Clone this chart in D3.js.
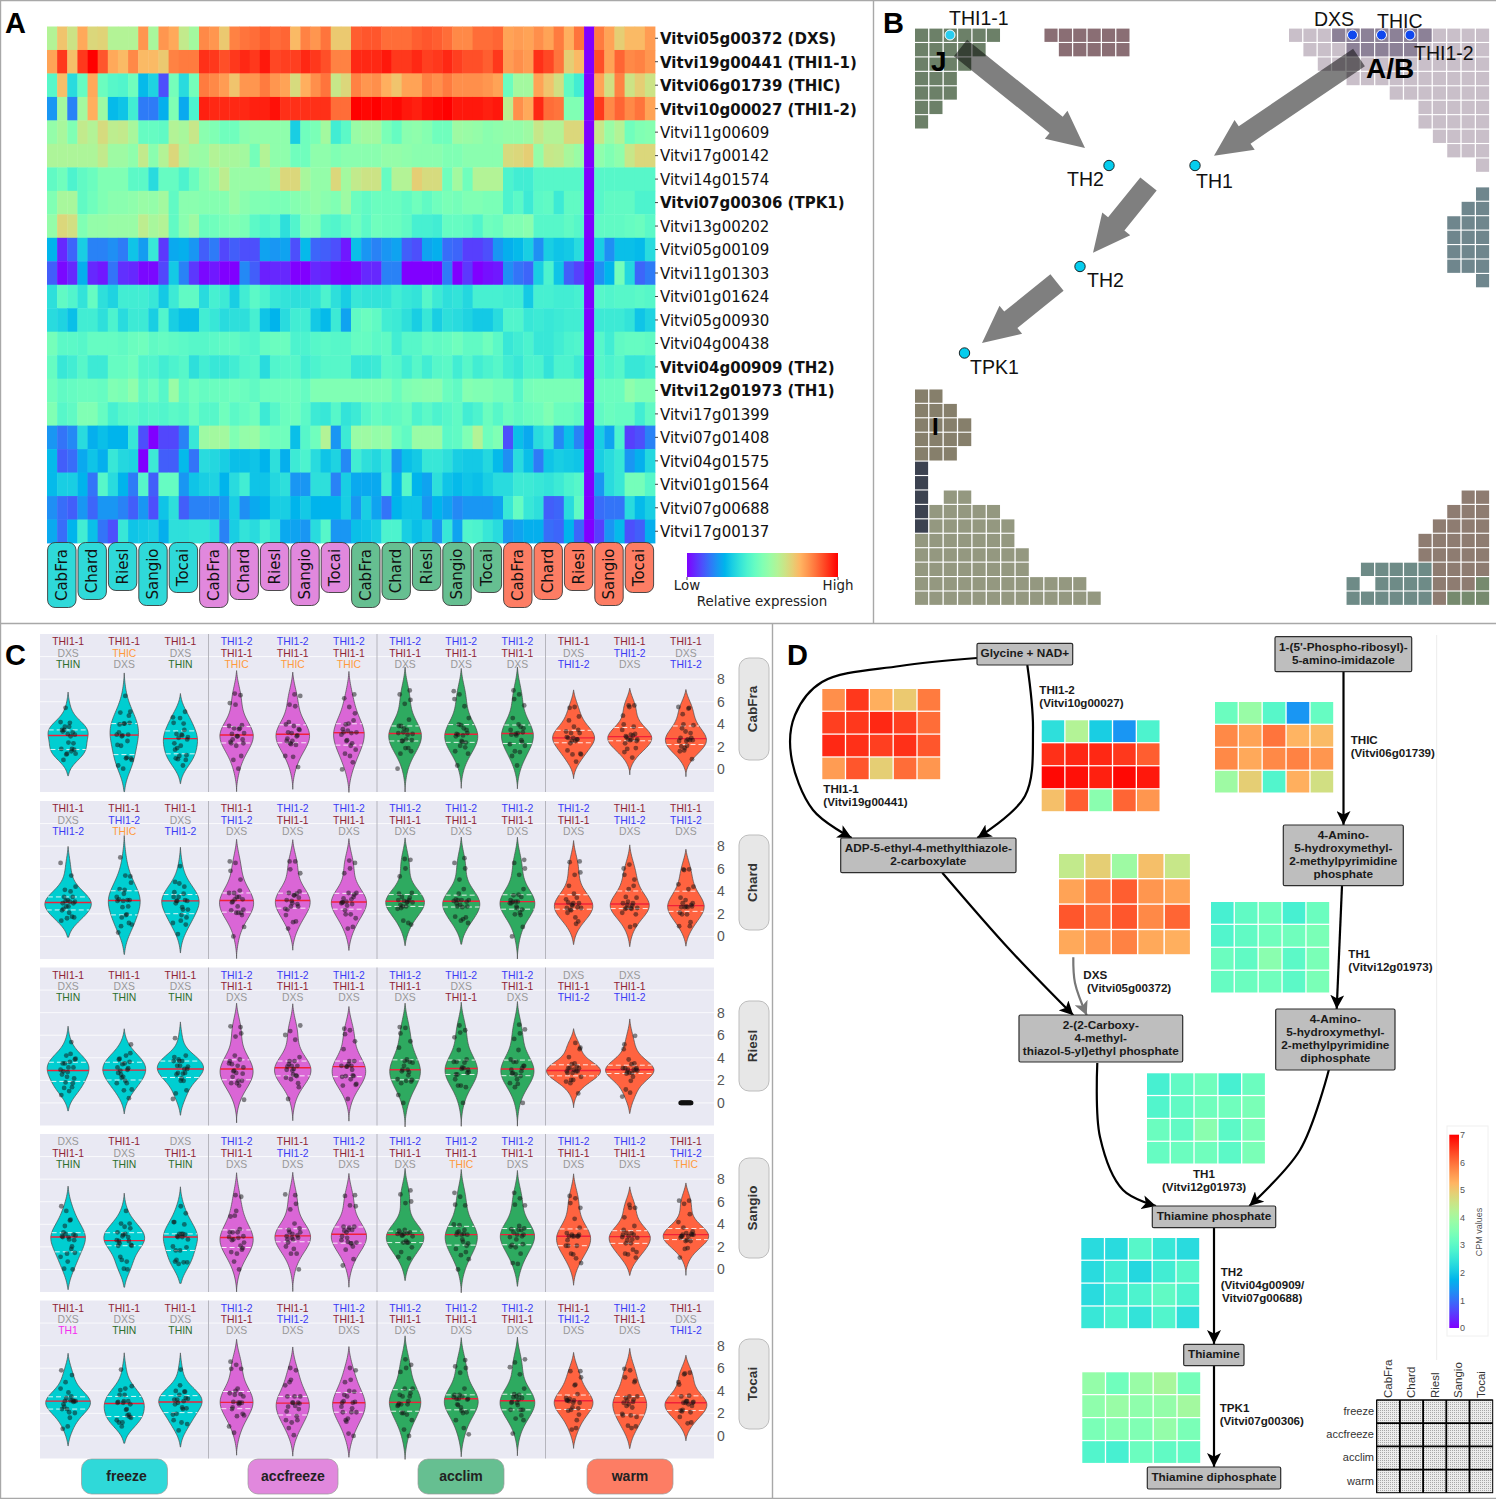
<!DOCTYPE html>
<html><head><meta charset="utf-8">
<script src="https://cdn.jsdelivr.net/npm/d3@7"></script>
<style>html,body{margin:0;padding:0;background:#fff}svg{display:block}text{font-family:"Liberation Sans",Arial,sans-serif}</style>
</head><body><svg id="c" width="1496" height="1499"></svg>
<script>
// ---------- DATA ----------
const genes=["Vitvi05g00372 (DXS)","Vitvi19g00441 (THI1-1)","Vitvi06g01739 (THIC)","Vitvi10g00027 (THI1-2)","Vitvi11g00609","Vitvi17g00142","Vitvi14g01574","Vitvi07g00306 (TPK1)","Vitvi13g00202","Vitvi05g00109","Vitvi11g01303","Vitvi01g01624","Vitvi05g00930","Vitvi04g00438","Vitvi04g00909 (TH2)","Vitvi12g01973 (TH1)","Vitvi17g01399","Vitvi07g01408","Vitvi04g01575","Vitvi01g01564","Vitvi07g00688","Vitvi17g00137"];
const cultivars=["CabFra","Chard","Riesl","Sangio","Tocai"];
const treatments=["freeze","accfreeze","acclim","warm"];
// relative expression, percent of the colour range; each row: freeze(15) accfreeze(15) acclim(15) warm(15)
const expression=[
[60,72,65,77,68,69,60,60,60,80,58,80,77,63,57, 82,80,71,83,85,86,88,86,87,74,83,80,85,71,71, 88,89,89,86,86,86,88,89,88,86,82,82,86,86,87, 78,79,78,81,78,84,76,85,0,84,78,70,74,74,79],
[78,93,73,93,100,89,77,74,82,74,74,71,83,84,84, 94,93,90,93,95,93,97,91,92,92,95,93,90,83,83, 95,95,95,97,93,93,95,92,93,95,92,90,90,88,93, 79,81,79,94,91,85,70,74,0,90,78,87,82,83,80],
[42,73,33,45,77,46,42,41,47,26,31,10,48,33,48, 84,82,79,72,80,80,84,80,78,67,76,81,85,64,68, 83,80,81,76,72,78,78,83,81,84,81,81,81,80,78, 46,57,57,78,72,66,44,38,0,78,66,83,65,70,65],
[20,57,17,57,76,56,26,28,38,16,16,24,50,23,40, 96,95,95,95,95,96,96,98,94,94,94,94,94,86,86, 100,99,100,98,99,97,96,98,99,100,97,97,97,96,97, 62,81,77,95,86,85,50,50,0,93,82,87,82,85,78],
[54,58,50,63,60,67,62,63,58,45,45,44,60,58,64, 52,50,47,47,52,53,53,53,53,30,47,49,57,38,43, 55,57,57,49,45,52,53,51,47,47,56,55,54,52,53, 54,54,56,64,60,60,68,68,0,64,55,60,47,50,51],
[59,59,59,59,59,63,56,56,53,63,52,60,68,60,56, 55,60,58,58,57,48,60,53,53,47,47,53,53,50,52, 52,52,52,54,54,53,52,52,52,50,50,52,52,52,52, 67,68,70,54,64,63,58,55,0,53,50,53,64,68,68],
[44,47,40,44,46,50,50,50,43,43,33,45,45,40,46, 52,55,62,55,55,55,55,58,68,68,58,54,54,68,57, 63,65,65,45,60,60,70,67,67,47,57,47,60,60,60, 40,38,38,42,42,42,42,42,0,42,42,42,42,42,42],
[50,58,58,44,47,50,52,52,53,55,54,57,44,52,52, 51,51,51,55,52,50,50,49,49,51,52,54,52,50,56, 46,44,46,46,46,44,47,44,47,49,48,50,50,49,49, 40,43,37,43,44,37,44,44,0,42,44,44,44,40,40],
[54,68,66,50,54,54,55,55,55,62,58,60,44,52,56, 46,47,49,50,49,43,41,43,34,41,50,50,42,41,44, 47,43,47,46,46,44,39,39,38,45,45,44,41,47,46, 50,50,52,42,42,42,44,42,0,44,44,44,45,46,43],
[25,5,13,30,17,17,19,16,28,21,36,7,23,24,20, 12,16,9,12,10,10,22,20,22,10,26,13,12,10,3, 27,20,17,20,22,12,10,22,24,14,13,8,8,10,20, 24,26,30,19,30,28,29,33,0,30,19,27,27,26,33],
[12,1,5,24,5,3,15,6,5,1,1,9,29,17,7, 1,3,0,0,18,12,4,5,5,0,0,5,4,1,0, 1,5,5,17,17,0,0,0,0,16,0,7,0,2,3, 19,15,13,30,40,28,12,8,0,19,25,48,32,13,16],
[34,44,41,35,45,34,31,38,38,38,36,29,37,44,44, 33,39,37,30,38,43,40,36,35,34,34,35,40,34,30, 36,35,35,35,38,36,35,42,37,34,35,32,39,39,39, 38,38,29,39,39,38,38,39,0,42,41,42,42,43,42],
[33,31,27,38,38,34,40,33,37,37,30,41,30,27,27, 38,36,33,34,34,39,28,25,33,38,38,29,26,37,22, 44,46,44,38,37,34,30,36,30,34,33,31,29,29,33, 41,41,36,37,36,37,38,38,0,37,37,37,35,28,31],
[48,43,43,42,45,45,45,44,46,47,44,45,44,43,42, 42,43,44,44,42,41,45,46,46,40,40,42,43,42,42, 45,45,43,44,38,42,42,45,44,45,47,44,44,47,43, 36,38,40,36,36,38,40,41,0,42,38,44,45,45,44],
[45,36,38,42,37,37,45,45,47,41,41,38,40,42,34, 38,36,36,38,41,42,33,41,42,42,38,40,42,42,42, 36,36,37,43,42,38,42,38,42,43,38,42,38,40,42, 38,36,40,40,35,40,40,37,0,42,40,42,36,36,38],
[47,44,45,46,46,45,50,49,53,44,47,42,55,44,47, 45,46,46,47,46,44,47,47,47,47,45,50,50,50,50, 50,50,50,50,46,50,51,52,52,46,44,51,50,50,48, 48,42,48,49,49,49,49,49,0,46,46,46,53,50,50],
[50,42,44,50,50,45,39,42,43,41,42,41,43,42,46, 42,42,47,43,45,47,37,42,46,47,43,37,36,42,35, 37,42,45,43,44,46,40,43,40,42,44,38,40,46,42, 46,44,46,47,50,46,46,44,0,44,46,45,45,38,44],
[20,15,18,33,24,27,25,25,36,10,0,9,9,17,36, 56,57,57,50,54,55,49,47,47,27,42,47,60,20,37, 55,56,54,55,47,44,55,55,55,43,44,50,60,47,50, 10,27,23,33,36,18,27,17,0,30,22,40,8,10,17],
[26,12,14,23,28,24,36,32,31,0,37,12,12,26,15, 33,32,30,27,27,28,25,34,24,37,40,33,28,31,18, 38,34,32,36,20,27,29,36,36,34,30,29,29,32,26, 19,33,27,16,28,30,29,28,0,30,33,36,20,24,32],
[26,30,30,25,15,42,33,25,16,42,12,45,45,20,28, 30,31,25,33,38,28,28,32,34,20,20,34,34,17,30, 23,23,23,38,24,42,25,22,34,28,26,28,27,30,33, 33,37,37,36,35,37,40,42,0,20,33,36,48,48,42],
[19,14,12,20,13,20,20,17,12,20,10,28,34,12,17, 17,17,20,30,19,23,25,30,30,25,29,25,25,25,30, 20,30,22,15,25,28,28,20,25,22,18,20,20,20,22, 36,45,36,34,12,13,33,44,0,14,15,15,33,26,30],
[23,14,25,38,27,15,10,36,28,29,30,24,34,34,35, 35,33,17,30,35,33,38,35,23,22,20,33,42,20,20, 27,28,30,40,40,30,27,30,20,36,22,41,40,36,33, 20,22,24,24,14,13,25,13,0,8,20,26,10,12,24]
];
// three most expressed genes shown above each violin, rows = cultivars, 12 violins per row
const topGenes=[
["THI1-1|DXS|THIN","THI1-1|THIC|DXS","THI1-1|DXS|THIN","THI1-2|THI1-1|THIC","THI1-2|THI1-1|THIC","THI1-2|THI1-1|THIC","THI1-2|THI1-1|DXS","THI1-2|THI1-1|DXS","THI1-2|THI1-1|DXS","THI1-1|DXS|THI1-2","THI1-1|THI1-2|DXS","THI1-1|DXS|THI1-2"],
["THI1-1|DXS|THI1-2","THI1-1|THI1-2|THIC","THI1-1|DXS|THI1-2","THI1-1|THI1-2|DXS","THI1-2|THI1-1|DXS","THI1-2|THI1-1|DXS","THI1-2|THI1-1|DXS","THI1-2|THI1-1|DXS","THI1-2|THI1-1|DXS","THI1-2|THI1-1|DXS","THI1-1|THI1-2|DXS","THI1-1|THI1-2|DXS"],
["THI1-1|DXS|THIN","THI1-1|DXS|THIN","THI1-1|DXS|THIN","THI1-2|THI1-1|DXS","THI1-2|THI1-1|DXS","THI1-2|THI1-1|DXS","THI1-2|THI1-1|DXS","THI1-2|DXS|THI1-1","THI1-2|THI1-1|DXS","DXS|THI1-1|THI1-2","DXS|THI1-1|THI1-2",""],
["DXS|THI1-1|THIN","THI1-1|DXS|THIN","DXS|THI1-1|THIN","THI1-2|THI1-1|DXS","THI1-1|THI1-2|DXS","THI1-2|THI1-1|DXS","THI1-2|THI1-1|DXS","THI1-2|THI1-1|THIC","THI1-2|THI1-1|DXS","THI1-2|THI1-1|DXS","THI1-2|THI1-1|DXS","THI1-1|THI1-2|THIC"],
["THI1-1|DXS|TH1","THI1-1|DXS|THIN","THI1-1|DXS|THIN","THI1-2|THI1-1|DXS","THI1-1|THI1-2|DXS","THI1-2|THI1-1|DXS","THI1-2|THI1-1|DXS","THI1-2|THI1-1|DXS","THI1-2|THI1-1|DXS","THI1-1|THI1-2|DXS","THI1-2|THI1-1|DXS","THI1-1|DXS|THI1-2"]
];
// pathway heat grids: CPM colour fraction, rows treatments, columns cultivars (percent)
const gridTHI11=[[81,93,76,71,84],[92,93,95,92,86],[95,94,92,94,89],[79,89,70,86,80]];
const gridTHI12=[[34,60,30,20,40],[94,95,95,93,88],[99,98,96,99,97],[73,88,52,87,80]];
const gridDXS=[[63,70,56,73,64],[78,84,88,80,78],[89,86,89,82,87],[77,80,83,77,76]];
const gridTHIC=[[46,55,42,20,45],[82,78,85,75,74],[82,77,82,83,80],[56,70,41,76,66]];
const gridTH1=[[39,44,47,39,46],[41,44,47,47,49],[46,44,52,43,49],[45,46,47,43,49]];
const gridTH2=[[33,33,42,36,33],[33,38,32,38,42],[33,38,40,44,40],[36,40,35,41,34]];
const gridTPK1=[[54,47,55,58,48],[53,55,53,54,57],[49,51,50,54,49],[41,39,46,44,44]];
// SOM tiles of panel B: [row, first column, last column]
const tilesJ=[[0,0,5],[1,0,4],[2,0,3],[3,0,2],[4,0,2],[5,0,1],[6,0,0]];
const tilesMauve=[[0,9,14],[1,10,14]];
const tilesAB=[[0,26,39],[1,27,39],[2,28,39],[3,30,39],[4,33,39],[5,35,39],[6,35,39],[7,36,39],[8,37,39],[9,39,39]];
const tilesABdark=[[0,29,35],[1,30,34]];
const tilesSlateBlue=[[11,39,39],[12,38,39],[13,37,39],[14,37,39],[15,37,39],[16,37,39],[17,39,39]];
const tilesI=[[25,0,1],[26,0,2],[27,0,3],[28,0,3],[29,0,2]];
const tilesDark=[[30,0,0],[31,0,0],[32,0,0],[33,0,0],[34,0,0]];
const tilesOlive=[[32,2,3],[33,1,5],[34,1,6],[35,0,6],[36,0,7],[37,0,7],[38,0,11],[39,0,12]];
const tilesBrown=[[32,38,39],[33,37,39],[34,36,39],[35,35,39],[36,35,39],[37,36,39],[38,36,38],[39,36,36]];
const tilesTeal=[[37,31,35],[38,30,30],[38,32,35],[39,30,35]];
const tilesGreen=[[38,39,39],[39,37,39]];

// ---------- HELPERS ----------
const svg=d3.select("#c");
const defs=svg.append("defs");
const rainbow=t=>{t=Math.max(0,Math.min(1,t));return d3.rgb(255*Math.min(1,Math.abs(2*t-.5)),255*Math.sin(Math.PI*t),255*Math.cos(Math.PI*t/2)).formatRgb();};
const groupFill=["#2fd9d9","#e188dd","#66bf91","#fd7d64"];
const violinFill=["#00ced1","#da66d6","#2eaa60","#ff6340"];
function gradient(id,x2,y2){const g=defs.append("linearGradient").attr("id",id).attr("x1",0).attr("y1",y2?1:0).attr("x2",x2).attr("y2",0);
  d3.range(0,1.001,.05).forEach(t=>g.append("stop").attr("offset",t).attr("stop-color",rainbow(t)));}
gradient("gradH",1,0);gradient("gradV",0,1);
const pat=defs.append("pattern").attr("id","dots").attr("width",2).attr("height",2).attr("patternUnits","userSpaceOnUse");
pat.append("rect").attr("width",2).attr("height",2).attr("fill","#ececec");
pat.append("rect").attr("width",1).attr("height",1).attr("fill","#a8a8a8");
[["arrK","#000"],["arrG","#777"]].forEach(([id,c])=>defs.append("marker").attr("id",id).attr("markerUnits","userSpaceOnUse").attr("markerWidth",16).attr("markerHeight",14).attr("refX",14).attr("refY",7).attr("orient","auto").append("path").attr("d","M0,0L14,7L0,14L3.5,7Z").attr("fill",c));

// frame
[[0,.5,1496,.5],[.5,0,.5,1499],[873.5,0,873.5,623],[0,623.5,1496,623.5],[772.5,623,772.5,1499],[0,1498.5,1496,1498.5]].forEach(l=>
 svg.append("line").attr("x1",l[0]).attr("y1",l[1]).attr("x2",l[2]).attr("y2",l[3]).attr("stroke","#a8a8a8").attr("stroke-width",1.4));
[["A",5,33],["B",883,33],["C",5,665],["D",787,665]].forEach(d=>svg.append("text").text(d[0]).attr("x",d[1]).attr("y",d[2]).attr("font-size",29).attr("font-weight",700).attr("fill","#000"));

// ---------- PANEL A ----------
const A=svg.append("g");
const hx=d3.scaleBand().domain(d3.range(60)).range([47,655]);
const hy=d3.scaleBand().domain(genes).range([26.5,543]);
expression.forEach((row,r)=>A.append("g").selectAll("rect").data(row).join("rect")
  .attr("x",(d,i)=>hx(i)).attr("y",hy(genes[r])).attr("width",hx.bandwidth()+.4).attr("height",hy.bandwidth()+.4)
  .attr("fill",d=>rainbow(d/100)));
const gAxis=A.append("g").attr("transform","translate(655,0)").call(d3.axisRight(hy).tickSize(3).tickPadding(2));
gAxis.select(".domain").remove();
gAxis.selectAll("line").attr("stroke","#444");
gAxis.selectAll("text").attr("dy","0.39em").attr("y",0).style("font-family","'DejaVu Sans'").style("font-size","15px").attr("fill","#111").style("font-weight",d=>d.includes("(")?700:400);
const pillLen=[65,57,48,63,50];
treatments.forEach((t,g)=>cultivars.forEach((c,k)=>{
  const x0=hx(g*15+k*3)+.6, w=hx.bandwidth()*3-2, h=pillLen[k];
  const gg=A.append("g");
  gg.append("rect").attr("x",x0).attr("y",542.5).attr("width",w).attr("height",h).attr("rx",7.5).attr("fill",groupFill[g]).attr("stroke","#3b3b3b").attr("stroke-width",.9);
  gg.append("text").text(c).attr("transform",`translate(${x0+w/2+5},${542.5+h/2}) rotate(-90)`).attr("text-anchor","middle").style("font-family","'DejaVu Sans'").attr("font-size",15).attr("fill","#111");
}));
A.append("rect").attr("x",687).attr("y",553).attr("width",151).attr("height",24).attr("fill","url(#gradH)");
[[687,"Low"],[838,"High"]].forEach(d=>{A.append("line").attr("x1",d[0]).attr("x2",d[0]).attr("y1",577).attr("y2",580).attr("stroke","#444");
 A.append("text").text(d[1]).attr("x",d[0]).attr("y",589.5).attr("text-anchor","middle").style("font-family","'DejaVu Sans'").attr("font-size",13.4).attr("fill","#222");});
A.append("text").text("Relative expression").attr("x",762).attr("y",605.5).attr("text-anchor","middle").style("font-family","'DejaVu Sans'").attr("font-size",13.4).attr("fill","#222");

// ---------- PANEL B ----------
const B=svg.append("g");
const bx=d3.scaleLinear().domain([0,40]).range([915,1490.4]);
const by=d3.scaleLinear().domain([0,40]).range([28.6,606]);
function drawTiles(list,fill){list.forEach(([r,a,b])=>B.append("g").selectAll("rect").data(d3.range(a,b+1)).join("rect")
  .attr("x",d=>bx(d)).attr("y",by(r)).attr("width",13.1).attr("height",13.3).attr("fill",fill));}
drawTiles(tilesJ,"#6c8068");drawTiles(tilesMauve,"#8a6e74");drawTiles(tilesAB,"#c9bfc9");drawTiles(tilesABdark,"#8c8197");
drawTiles(tilesSlateBlue,"#6f868d");drawTiles(tilesI,"#867f6b");drawTiles(tilesDark,"#3c4250");drawTiles(tilesOlive,"#949880");
drawTiles(tilesBrown,"#8e7c71");drawTiles(tilesTeal,"#6e8b87");drawTiles(tilesGreen,"#768a6e");
[[960.5,48,1085,148],[1359,57.5,1214,155.7],[1148.5,184,1093,252.7],[1057,282.5,982,343]].forEach(([x0,y0,x1,y1])=>{
  const L=Math.hypot(x1-x0,y1-y0),ux=(x1-x0)/L,uy=(y1-y0)/L,nx=-uy,ny=ux,sw=10.5,hw=18,hl=37;
  const nk=[x1-ux*hl,y1-uy*hl];
  const pts=[[x0+nx*sw,y0+ny*sw],[nk[0]+nx*sw,nk[1]+ny*sw],[nk[0]+nx*hw,nk[1]+ny*hw],[x1,y1],[nk[0]-nx*hw,nk[1]-ny*hw],[nk[0]-nx*sw,nk[1]-ny*sw],[x0-nx*sw,y0-ny*sw]];
  B.append("path").attr("d",d3.line()(pts)+"Z").attr("fill","#000").attr("fill-opacity",.5);
});
[[950,35,"#29cdf0"],[1352.5,35,"#0f47ee"],[1381.5,35,"#0f47ee"],[1410,35,"#0f47ee"]].forEach(d=>B.append("circle").attr("cx",d[0]).attr("cy",d[1]).attr("r",5).attr("fill",d[2]).attr("stroke","#fff").attr("stroke-width",1));
[[1109,165.5],[1195,165.5],[1080,266.5],[964.5,353]].forEach(d=>B.append("circle").attr("cx",d[0]).attr("cy",d[1]).attr("r",5.2).attr("fill","#05cdee").attr("stroke","#111").attr("stroke-width",.9));
[["THI1-1",949,25],["TH2",1067,186],["TH1",1196,188],["TH2",1087,287],["TPK1",970,374],["DXS",1314,26],["THIC",1377,28],["THI1-2",1414,60]].forEach(d=>
  B.append("text").text(d[0]).attr("x",d[1]).attr("y",d[2]).attr("font-size",19.5).attr("fill","#111"));
[["J",931,71,28],["A/B",1366,78,28],["I",932,435,24]].forEach(d=>B.append("text").text(d[0]).attr("x",d[1]).attr("y",d[2]).attr("font-size",d[3]).attr("font-weight",700).attr("fill","#000"));

// ---------- PANEL C ----------
const C=svg.append("g");
const colC=d3.scaleBand().domain(d3.range(12)).range([40,714]);
const geneColor={"THI1-1":"#8f2333","DXS":"#989898","THIN":"#2c6e2c","THIC":"#ff9a3c","THI1-2":"#3a3af5","TH1":"#f52cf0"};
const rowTop=[634,801,967.5,1134,1300.5];
const valueScale=7, n=genes.length;
cultivars.forEach((cv,k)=>{
  const top=rowTop[k], h=158, y=d3.scaleLinear().domain([-2,12]).range([top+h,top]);
  const g=C.append("g");
  g.append("rect").attr("x",40).attr("y",top).attr("width",674).attr("height",h).attr("fill","#e9e9f3");
  d3.range(0,11,2).forEach(v=>g.append("line").attr("x1",40).attr("x2",714).attr("y1",y(v)).attr("y2",y(v)).attr("stroke","#fff").attr("stroke-width",.9).attr("stroke-opacity",.85));
  [3,6,9].forEach(i=>g.append("line").attr("x1",colC(i)).attr("x2",colC(i)).attr("y1",top).attr("y2",top+h).attr("stroke","#b5b5bd").attr("stroke-width",1));
  d3.range(12).forEach(j=>{
    const t=Math.floor(j/3), rep=j%3, col=t*15+k*3+rep;
    const vals=expression.map(r=>r[col]/100*valueScale), cx=colC(j)+colC.bandwidth()/2;
    const sd=d3.deviation(vals)||0, sorted=vals.slice().sort(d3.ascending);
    const dx=i=>((i*7+col*5)%n-(n-1)/2)/((n-1)/2)*7.5;
    if(sd>0){
      const bw=1.22*sd*Math.pow(n,-.2), lo=d3.min(vals)-1.8*bw, hi=d3.max(vals)+1.8*bw;
      const dens=v=>d3.mean(vals,u=>Math.exp(-.5*((v-u)/bw)**2)/(bw*Math.sqrt(2*Math.PI)));
      const k_w=78, grid=d3.range(0,61).map(i=>lo+(hi-lo)*i/60);
      const w=v=>Math.max(0,dens(v)-dens(hi))*k_w;
      g.append("path").datum(grid).attr("d",d3.area().y(v=>y(v)).x0(v=>cx-w(v)).x1(v=>cx+w(v)).curve(d3.curveBasis))
        .attr("fill",violinFill[t]).attr("stroke","#4a4a4a").attr("stroke-width",.7);
      [d3.quantileSorted(sorted,.25),d3.quantileSorted(sorted,.75)].forEach(q=>g.append("line").attr("x1",cx-w(q)).attr("x2",cx+w(q)).attr("y1",y(q)).attr("y2",y(q)).attr("stroke","#fff").attr("stroke-width",1).attr("stroke-dasharray","5,3").attr("stroke-opacity",.85));
      const m=d3.quantileSorted(sorted,.5);
      g.append("line").attr("x1",cx-w(m)).attr("x2",cx+w(m)).attr("y1",y(m)).attr("y2",y(m)).attr("stroke","#f0203a").attr("stroke-width",1.4);
    }
    g.append("g").selectAll("circle").data(vals).join("circle").attr("cx",(d,i)=>cx+dx(i)*(sd>0?1:.7)).attr("cy",d=>y(d)).attr("r",2.4).attr("fill","#111").attr("fill-opacity",sd>0?.5:.9);
    if(topGenes[k][j]) topGenes[k][j].split("|").forEach((name,a)=>g.append("text").text(name).attr("x",cx).attr("y",top+11.3+a*11.3).attr("text-anchor","middle").attr("font-size",10.4).attr("fill",geneColor[name]));
  });
  const ax=g.append("g").attr("transform","translate(717,0)").call(d3.axisRight(y).tickValues([0,2,4,6,8]).tickSize(0).tickPadding(0));
  ax.select(".domain").remove();
  ax.selectAll("text").style("font-family","'Liberation Sans'").style("font-size","14px").attr("fill","#555");
});
const facetPill=[[658,760],[835,930],[1001,1091],[1158,1258],[1339,1429]];
facetPill.forEach((p,i)=>{C.append("rect").attr("x",739).attr("y",p[0]).attr("width",30).attr("height",p[1]-p[0]).attr("rx",10).attr("fill","#e7e7e7").attr("stroke","#bdbdbd");
 C.append("text").text(cultivars[i]).attr("transform",`translate(757,${(p[0]+p[1])/2}) rotate(-90)`).attr("text-anchor","middle").attr("font-weight",700).attr("font-size",13.5).attr("fill","#333");});
[[81.5,167.5],[248,338],[418,504],[587,673]].forEach((p,i)=>{C.append("rect").attr("x",p[0]).attr("y",1459).attr("width",p[1]-p[0]).attr("height",35).attr("rx",10).attr("fill",groupFill[i]).attr("stroke","#9a9a9a").attr("stroke-width",.7);
 C.append("text").text(treatments[i]).attr("x",(p[0]+p[1])/2+(i?0:2)).attr("y",1481).attr("text-anchor","middle").attr("font-weight",700).attr("font-size",14).attr("fill","#222");});

// ---------- PANEL D ----------
const D=svg.append("g");
D.append("line").attr("x1",1436.7).attr("x2",1436.7).attr("y1",635).attr("y2",1360).attr("stroke","#ececec");
function heatGrid(grid,x0,x1,y0,y1){
  const xs=d3.scaleBand().domain(d3.range(5)).range([x0,x1+1.2]).paddingInner(.055).paddingOuter(0);
  const ys=d3.scaleBand().domain(d3.range(4)).range([y0,y1+1.2]).paddingInner(.055).paddingOuter(0);
  grid.forEach((row,r)=>D.append("g").selectAll("rect").data(row).join("rect").attr("x",(d,i)=>xs(i)).attr("y",ys(r)).attr("width",xs.bandwidth()).attr("height",ys.bandwidth()).attr("fill",d=>rainbow(d/100)));
}
heatGrid(gridTHI11,822.3,939,689,778);heatGrid(gridTHI12,1041.7,1158.3,720.3,810);heatGrid(gridDXS,1059,1188.7,854,953);
heatGrid(gridTHIC,1215,1332,702,791.3);heatGrid(gridTH1,1211,1328,902,991.3);heatGrid(gridTH1,1147,1263.7,1073.3,1162.3);
heatGrid(gridTH2,1081.3,1198,1238,1327);heatGrid(gridTPK1,1082.3,1199,1372.3,1461.7);
const curve=d3.line().curve(d3.curveCatmullRom.alpha(.5));
[
 [[[977,658],[900,666],[822,682],[795,715],[791,755],[813,810],[851.7,838]],"arrK","#000"],
 [[[1027.3,665],[1033,730],[1025,796],[977.3,838]],"arrK","#000"],
 [[[942.3,872.7],[1010,950],[1073.3,1015.3]],"arrK","#000"],
 [[[1073.3,957.3],[1075,983],[1086.7,1015.3]],"arrG","#777"],
 [[[1343.5,671.7],[1343.5,825]],"arrK","#000"],
 [[[1342,885.7],[1336.7,1009]],"arrK","#000"],
 [[[1097.3,1063],[1100,1137],[1123,1190],[1156,1206]],"arrK","#000"],
 [[[1329,1069.3],[1300,1150],[1249.3,1206]],"arrK","#000"],
 [[[1214,1227.7],[1214,1344]],"arrK","#000"],
 [[[1214,1365.7],[1214,1467]],"arrK","#000"]
].forEach(([p,m,c])=>D.append("path").attr("d",curve(p)).attr("fill","none").attr("stroke",c).attr("stroke-width",2.2).attr("marker-end",`url(#${m})`));
[
 [977,1072.7,643.3,665,["Glycine + NAD+"]],
 [840.7,1016,838,872.7,["ADP-5-ethyl-4-methylthiazole-","2-carboxylate"]],
 [1019,1182.7,1015,1062,["2-(2-Carboxy-","4-methyl-","thiazol-5-yl)ethyl phosphate"]],
 [1275,1411.7,636.7,671.7,["1-(5'-Phospho-ribosyl)-","5-amino-imidazole"]],
 [1283.3,1403.3,825,885.7,["4-Amino-","5-hydroxymethyl-","2-methylpyrimidine","phosphate"]],
 [1275.7,1395,1009,1070,["4-Amino-","5-hydroxymethyl-","2-methylpyrimidine","diphosphate"]],
 [1152.3,1275.7,1206,1227.7,["Thiamine phosphate"]],
 [1183.7,1244,1344.3,1365.7,["Thiamine"]],
 [1147.3,1280.7,1467,1489,["Thiamine diphosphate"]]
].forEach(([x0,x1,y0,y1,lines])=>{
  D.append("rect").attr("x",x0).attr("y",y0).attr("width",x1-x0).attr("height",y1-y0).attr("rx",1.5).attr("fill","#bebebe").attr("stroke","#2d2d2d").attr("stroke-width",1.2);
  const mid=(y0+y1)/2;
  lines.forEach((t,i)=>D.append("text").text(t).attr("x",(x0+x1)/2).attr("y",mid+(i-(lines.length-1)/2)*13+3).attr("text-anchor","middle").attr("font-weight",700).attr("font-size",11.8).attr("fill","#1a1a1a"));
});
[
 ["THI1-1",823.3,793],["(Vitvi19g00441)",823.3,806],
 ["THI1-2",1039.3,694],["(Vitvi10g00027)",1039.3,707],
 ["DXS",1083.3,979],["(Vitvi05g00372)",1087,992],
 ["THIC",1350.7,744],["(Vitvi06g01739)",1350.7,757],
 ["TH1",1348.3,958],["(Vitvi12g01973)",1348.3,971],
 ["TH1",1193,1178],["(Vitvi12g01973)",1162,1191],
 ["TH2",1220.7,1276],["(Vitvi04g00909/",1220.7,1289],["Vitvi07g00688)",1222,1302],
 ["TPK1",1219.7,1412],["(Vitvi07g00306)",1219.7,1425]
].forEach(d=>D.append("text").text(d[0]).attr("x",d[1]).attr("y",d[2]).attr("font-weight",700).attr("font-size",11.6).attr("fill","#1a1a1a"));
// colour bar
D.append("rect").attr("x",1447).attr("y",1126).attr("width",41).attr("height",210).attr("fill","none").attr("stroke","#f0f0f0");
D.append("rect").attr("x",1449.3).attr("y",1134.7).attr("width",9.7).attr("height",193.3).attr("fill","url(#gradV)");
const cbY=d3.scaleLinear().domain([0,7]).range([1328,1134.5]);
const cbA=D.append("g").attr("transform","translate(1459,0)").call(d3.axisRight(cbY).ticks(8).tickSize(0).tickPadding(1));
cbA.select(".domain").remove();
cbA.selectAll("text").style("font-family","'Liberation Sans'").style("font-size","9px").attr("fill","#555");
D.append("text").text("CPM values").attr("transform","translate(1482,1232) rotate(-90)").attr("text-anchor","middle").attr("font-size",9).attr("fill","#555");
// cultivar by treatment key
const kx=d3.scaleBand().domain(cultivars).range([1376.7,1492.7]);
const ky=d3.scaleBand().domain(treatments).range([1400,1492.7]);
D.append("rect").attr("x",1376.7).attr("y",1400).attr("width",116).attr("height",92.7).attr("fill","url(#dots)");
cultivars.forEach((c,i)=>{const x=kx(c);D.append("line").attr("x1",x).attr("x2",x).attr("y1",1400).attr("y2",1492.7).attr("stroke","#000").attr("stroke-width",i?1.8:1);
 D.append("text").text(c).attr("transform",`translate(${x+15.5},1398) rotate(-90)`).attr("font-size",11.5).attr("fill","#333");});
treatments.forEach((t,i)=>{const y=ky(t);D.append("line").attr("x1",1376.7).attr("x2",1492.7).attr("y1",y).attr("y2",y).attr("stroke","#000").attr("stroke-width",i?1.8:1);
 D.append("text").text(t).attr("x",1374).attr("y",y+15).attr("text-anchor","end").attr("font-size",11).attr("fill","#333");});
D.append("rect").attr("x",1376.7).attr("y",1400).attr("width",116).attr("height",92.7).attr("fill","none").attr("stroke","#000").attr("stroke-width",1);
</script></body></html>
